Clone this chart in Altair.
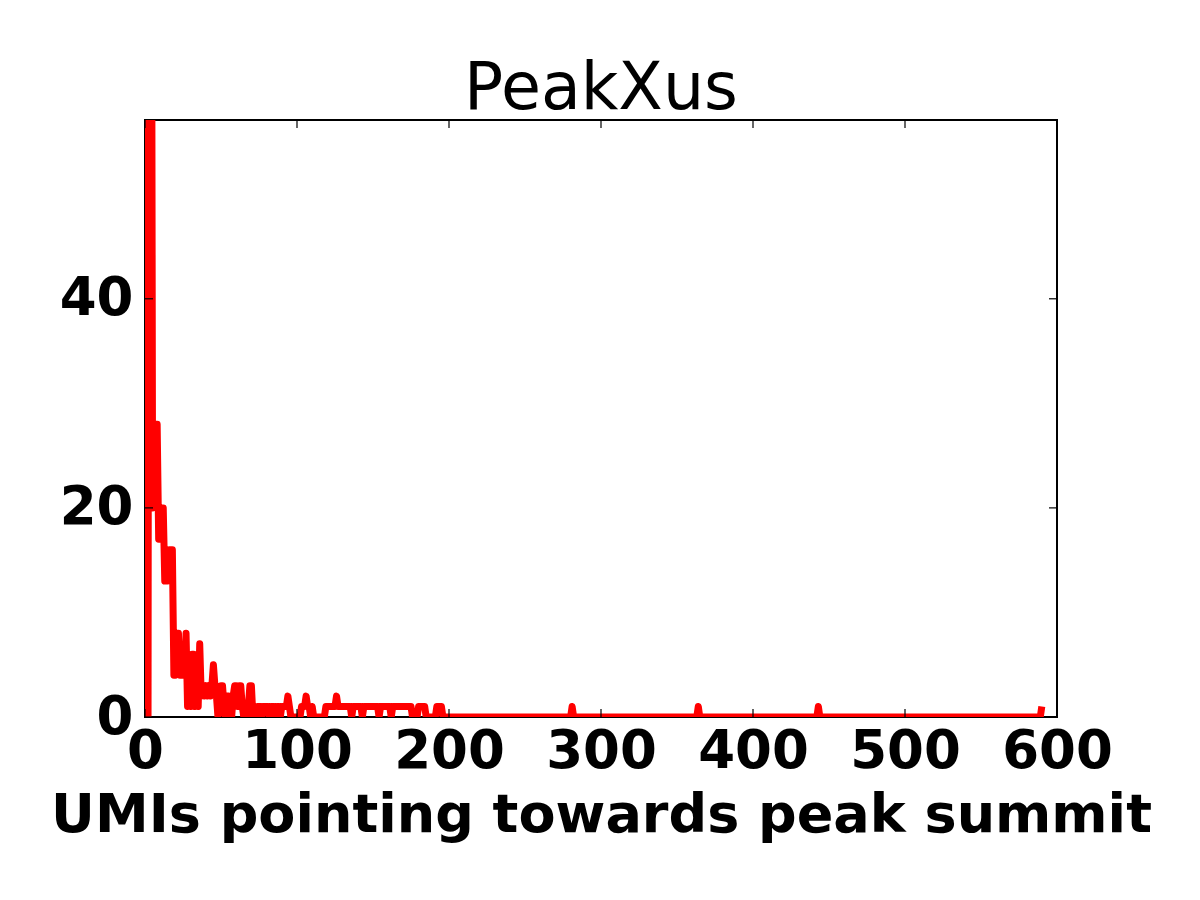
import altair as alt
import pandas as pd

# histogram counts for UMI values 0..199 (1..4 go off-chart)
counts_head = [
    0, 200, 0, 150, 100, 20, 28, 28, 28, 17,
    17, 20, 20, 13, 13, 13, 16, 16, 16, 4,
    4, 8, 8, 4, 4, 4, 4, 8, 1, 2,
    1, 6, 6, 1, 2, 1, 7, 2, 3, 2,
    3, 2, 3, 2, 3, 5, 3, 2, 0, 1,
    3, 3, 1, 0, 2, 2, 1, 0, 2, 3,
    3, 1, 3, 3, 1, 0, 1, 0, 1, 3,
    3, 0, 1, 0, 1, 1, 1, 0, 1, 1,
    1, 1, 0, 1, 1, 1, 0, 1, 1, 0,
    1, 1, 1, 1, 2, 1, 0, 0, 0, 0,
    0, 0, 0, 1, 1, 1, 2, 1, 1, 0,
    1, 0, 0, 0, 0, 0, 0, 0, 0, 1,
    1, 1, 1, 1, 1, 1, 2, 1, 1, 1,
    1, 1, 1, 1, 1, 1, 0, 1, 1, 1,
    1, 1, 1, 0, 1, 1, 1, 1, 1, 1,
    1, 1, 1, 1, 0, 1, 1, 1, 1, 1,
    1, 1, 0, 1, 1, 1, 1, 1, 1, 1,
    1, 1, 1, 1, 1, 1, 0, 0, 0, 0,
    1, 1, 1, 1, 1, 0, 0, 0, 0, 0,
    0, 0, 1, 1, 1, 1, 0, 0, 0, 0,
]
# beyond 199 every count is zero except these
tail_umis = [281, 364, 443, 590]
tail_counts = [1, 1, 1, 1]
last_umi = 590

x_ticks = [0, 100, 200, 300, 400, 500, 600]
y_ticks = [0, 20, 40]
x_domain = [0, 600]
y_domain = [0, 57.1]

umis = list(range(0, last_umi + 1))
tail_map = dict(zip(tail_umis, tail_counts))
counts = [counts_head[u] if u < len(counts_head) else tail_map.get(u, 0) for u in umis]
df = pd.DataFrame({"umi": umis, "count": counts})

W, H = 912, 597
FONT = "DejaVu Sans"

xs = alt.Scale(domain=x_domain, nice=False, zero=False)
ys = alt.Scale(domain=y_domain, nice=False, zero=False)

x_axis = alt.Axis(values=x_ticks, format="d", title="UMIs pointing towards peak summit",
                  labelFont=FONT, labelFontSize=53, labelFontWeight="bold", labelColor="black",
                  labelBaseline="alphabetic", labelPadding=50, ticks=False, domain=False, grid=False,
                  labelFlush=False, labelOverlap=False,
                  titleFont=FONT, titleFontSize=54, titleFontWeight="bold", titleColor="black",
                  titleBaseline="alphabetic", titleY=114)
y_axis = alt.Axis(values=y_ticks, format="d", title=None,
                  labelFont=FONT, labelFontSize=53, labelFontWeight="bold", labelColor="black",
                  labelPadding=12, ticks=False, domain=False, grid=False,
                  labelFlush=False, labelOverlap=False)

line = alt.Chart(df).mark_line(color="#ff0000", strokeWidth=7, clip=True,
                               strokeJoin="round").encode(
    x=alt.X("umi:Q", scale=xs, axis=x_axis),
    y=alt.Y("count:Q", scale=ys, axis=y_axis),
)

xt = pd.DataFrame({"v": x_ticks})
yt = pd.DataFrame({"v": y_ticks})
tick_len = 8
tick_style = dict(color="black", strokeWidth=1.2)

bottom_ticks = alt.Chart(xt).mark_rule(**tick_style).encode(
    x=alt.X("v:Q", scale=xs, axis=x_axis), y=alt.value(H), y2=alt.value(H - tick_len))
top_ticks = alt.Chart(xt).mark_rule(**tick_style).encode(
    x=alt.X("v:Q", scale=xs, axis=x_axis), y=alt.value(0), y2=alt.value(tick_len))
left_ticks = alt.Chart(yt).mark_rule(**tick_style).encode(
    y=alt.Y("v:Q", scale=ys, axis=y_axis), x=alt.value(0), x2=alt.value(tick_len))
right_ticks = alt.Chart(yt).mark_rule(**tick_style).encode(
    y=alt.Y("v:Q", scale=ys, axis=y_axis), x=alt.value(W), x2=alt.value(W - tick_len))

chart = alt.layer(line, bottom_ticks, top_ticks, left_ticks, right_ticks).properties(
    width=W, height=H,
    background="white",
    title=alt.TitleParams("PeakXus", font=FONT, fontSize=65, fontWeight="normal", color="black",
                          anchor="middle", baseline="alphabetic", offset=10, dy=65),
    autosize=alt.AutoSizeParams(type="none"),
    padding={"left": 137, "top": 112, "right": 135, "bottom": 175},
).configure_view(stroke="black", strokeWidth=2)

chart.save("out.html", embed_options={"renderer": "svg", "actions": False})
